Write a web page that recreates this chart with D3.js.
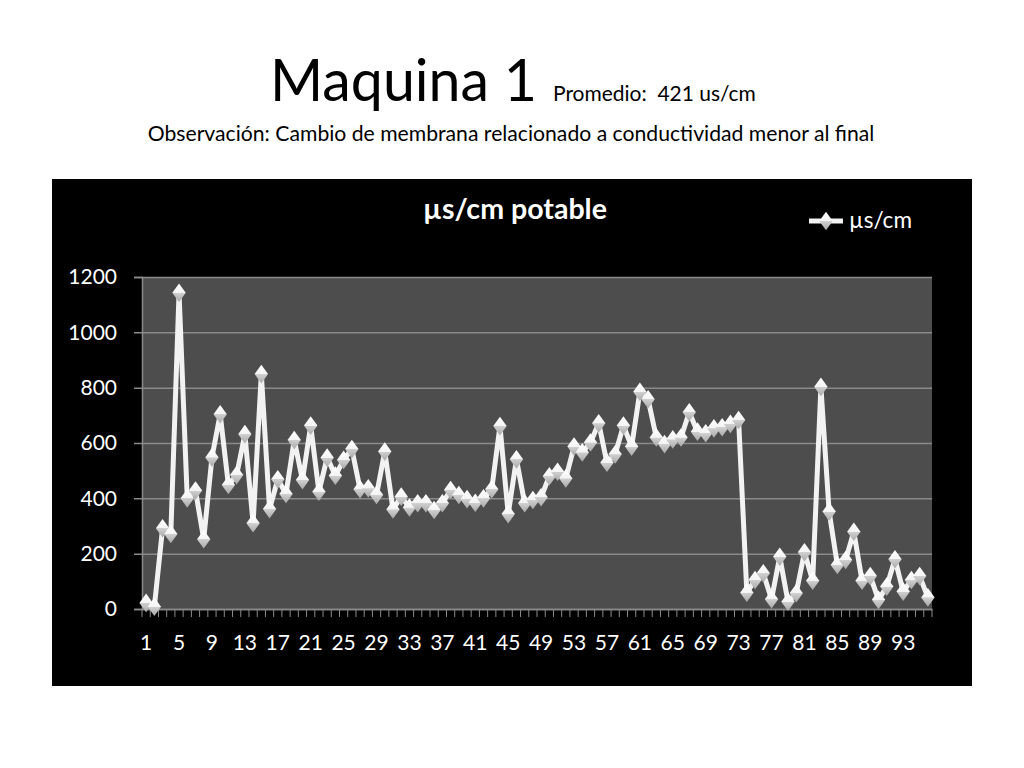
<!DOCTYPE html>
<html>
<head>
<meta charset="utf-8">
<script src="https://cdn.jsdelivr.net/npm/d3@7"></script>
<style>
  body { margin: 0; background: #fff; }
  text { font-family: Lato, "Open Sans", sans-serif; white-space: pre; }
</style>
</head>
<body>
<svg id="viz" width="1024" height="768"></svg>
<script>
// data
var days = d3.range(1, 97);
var values = [22, 8, 292, 271, 1143, 400, 428, 252, 548, 704,
              448, 484, 632, 310, 849, 361, 469, 416, 611, 466,
              663, 424, 547, 482, 539, 578, 433, 436, 412, 569,
              360, 406, 367, 382, 382, 358, 382, 430, 412, 397,
              384, 400, 433, 661, 343, 541, 382, 394, 404, 480,
              496, 472, 587, 566, 602, 671, 529, 559, 663, 587,
              785, 758, 620, 596, 613, 620, 711, 641, 635, 653,
              657, 669, 683, 59, 105, 129, 35, 189, 26, 57,
              205, 102, 803, 352, 159, 177, 279, 102, 119, 33,
              81, 180, 63, 105, 119, 42];
var xTicks = [1, 5, 9, 13, 17, 21, 25, 29, 33, 37, 41, 45, 49, 53, 57, 61, 65, 69, 73, 77, 81, 85, 89, 93];
var yTicks = [0, 200, 400, 600, 800, 1000, 1200];
var seriesName = "µs/cm";

var svg = d3.select("#viz");

// set font size so the text spans the wanted width
function fit(sel, w) {
    var l = sel.node().getComputedTextLength();
    sel.attr("font-size", +sel.attr("font-size") * w / l);
    return sel;
}

// slide titles
fit(svg.append("text").attr("x", 270).attr("y", 101).attr("font-size", 56)
    .attr("fill", "#000").text("Maquina 1"), 267);
fit(svg.append("text").attr("x", 553).attr("y", 101).attr("font-size", 20)
    .attr("fill", "#000").text("Promedio:  421 us/cm"), 203);
fit(svg.append("text").attr("x", 511).attr("y", 141).attr("font-size", 20)
    .attr("text-anchor", "middle").attr("fill", "#000")
    .text("Observación: Cambio de membrana relacionado a conductividad menor al final"), 727);

// chart box
svg.append("rect").attr("x", 52).attr("y", 179).attr("width", 920).attr("height", 507)
    .attr("fill", "#000");

fit(svg.append("text").attr("x", 515).attr("y", 219).attr("font-size", 24)
    .attr("font-weight", "bold").attr("text-anchor", "middle").attr("fill", "#fff")
    .text("µs/cm potable"), 184);

var margin = {left: 142, top: 277, right: 932, bottom: 609};

var x = d3.scaleBand().domain(days).range([margin.left, margin.right]);
var y = d3.scaleLinear().domain([0, 1200]).range([margin.bottom, margin.top]);

// plot area
svg.append("rect").attr("x", margin.left).attr("y", margin.top)
    .attr("width", margin.right - margin.left).attr("height", margin.bottom - margin.top)
    .attr("fill", "#4d4d4d");

// gridlines + y labels
var yAxis = svg.append("g").attr("transform", "translate(" + margin.left + ",0)")
    .call(d3.axisLeft(y).tickValues(yTicks).tickFormat(d3.format("d")).tickSize(8).tickPadding(17));
yAxis.select(".domain").attr("stroke", "#8a8a8a").attr("stroke-width", 1.5);
yAxis.selectAll(".tick line").attr("stroke", "#8a8a8a").attr("stroke-width", 1.5)
    .attr("x2", margin.right - margin.left).attr("x1", -8);
yAxis.selectAll(".tick text").attr("fill", "#fff").attr("font-size", 21)
    .style("font-family", "Lato, sans-serif");

// x axis: ticks on the category edges, labels every 4th day
var xAxis = svg.append("g").attr("transform", "translate(0," + margin.bottom + ")")
    .call(d3.axisBottom(x).tickValues(xTicks).tickSize(0).tickPadding(26));
xAxis.select(".domain").attr("stroke", "#8a8a8a").attr("stroke-width", 1.5);
xAxis.selectAll(".tick text").attr("fill", "#fff").attr("font-size", 21)
    .style("font-family", "Lato, sans-serif");

var edges = days.map(function(d) { return x(d); }).concat([x(days[days.length - 1]) + x.bandwidth()]);
xAxis.selectAll("line.edge")
    .data(edges)
    .enter()
    .append("line")
    .classed("edge", true)
    .attr("x1", function(d) { return d; })
    .attr("x2", function(d) { return d; })
    .attr("y1", 0)
    .attr("y2", 8)
    .attr("stroke", "#8a8a8a")
    .attr("stroke-width", 1);

// marker shading
var defs = svg.append("defs");
var grad = defs.append("linearGradient").attr("id", "dia").attr("x1", 0).attr("y1", 0).attr("x2", 0).attr("y2", 1);
grad.append("stop").attr("offset", "0%").attr("stop-color", "#ffffff");
grad.append("stop").attr("offset", "50%").attr("stop-color", "#f4f4f4");
grad.append("stop").attr("offset", "51%").attr("stop-color", "#d0d0d0");
grad.append("stop").attr("offset", "100%").attr("stop-color", "#a8a8a8");

var pts = days.map(function(d, i) { return {day: d, v: values[i]}; });

var line = d3.line()
    .x(function(d) { return x(d.day) + x.bandwidth() / 2; })
    .y(function(d) { return y(d.v); });

svg.append("path")
    .datum(pts)
    .attr("d", line)
    .attr("fill", "none")
    .attr("stroke", "#f2f2f2")
    .attr("stroke-width", 5)
    .attr("stroke-linejoin", "round");

var diamond = d3.symbol().type(d3.symbolDiamond).size(100);

svg.selectAll("path.mark")
    .data(pts)
    .enter()
    .append("path")
    .classed("mark", true)
    .attr("d", diamond)
    .attr("transform", function(d) {
        return "translate(" + (x(d.day) + x.bandwidth() / 2) + "," + y(d.v) + ") scale(1.25,1)";
    })
    .attr("fill", "url(#dia)");

// legend
var lg = svg.append("g").attr("transform", "translate(826,221)");
lg.append("line").attr("x1", -17).attr("x2", 17).attr("stroke", "#f2f2f2").attr("stroke-width", 5);
lg.append("path").attr("d", diamond).attr("transform", "scale(1.25,1)").attr("fill", "url(#dia)");
fit(lg.append("text").attr("x", 23).attr("y", 7).attr("font-size", 20)
    .attr("fill", "#fff").text(seriesName), 63);
</script>
</body>
</html>
